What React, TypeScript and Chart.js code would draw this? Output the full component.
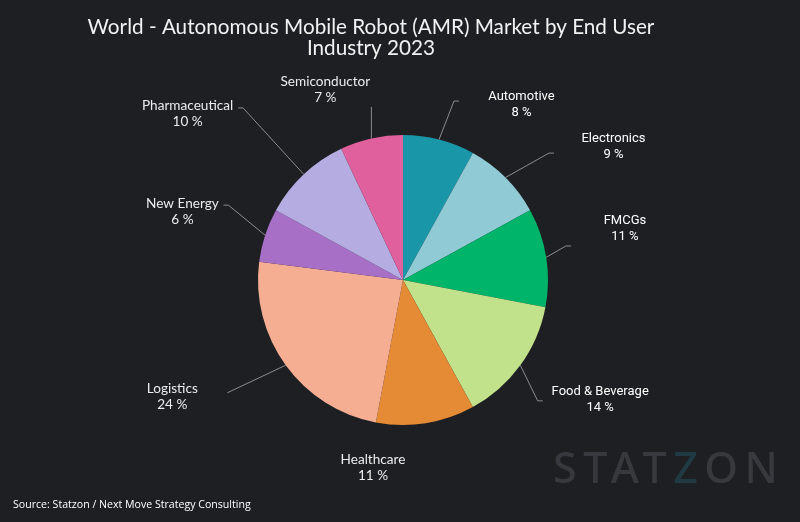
import React, { useEffect, useRef } from "react";
import { Chart, registerables } from "chart.js";

Chart.register(...registerables);

const categories = [
  "Automotive",
  "Electronics",
  "FMCGs",
  "Food & Beverage",
  "Healthcare",
  "Logistics",
  "New Energy",
  "Pharmaceutical",
  "Semiconductor",
];
const shares = [8, 9, 11, 14, 11, 24, 6, 10, 7];
const sliceColors = [
  "#1a96a9",
  "#90cad5",
  "#00b46a",
  "#c1e28b",
  "#e58a35",
  "#f6ae92",
  "#a86fc6",
  "#b5ade2",
  "#e0609d",
];
const titleLines = [
  "World - Autonomous Mobile Robot (AMR) Market by End User",
  "Industry 2023",
];
const sourceText = "Source: Statzon / Next Move Strategy Consulting";

// label layout: elbow relative to slice mid-angle (deg shift, radius factor),
// hook = horizontal tail, tdx/tdy = text centre relative to tail end
const labelLayout = [
  { shift: 1.5, rf: 1.283, hook: 5, tdx: 62.5, tdy: 4, font: "Roboto" },
  { shift: 4.0, rf: 1.334, hook: 5, tdx: 59.5, tdy: -6.5, font: "Roboto" },
  { shift: -2.8, rf: 1.148, hook: 5, tdx: 54, tdy: -17, font: "Roboto" },
  { shift: 5.9, rf: 1.248, hook: 5, tdx: 57.5, tdy: -1, font: "Roboto" },
  { shift: 0, rf: 1.0, hook: 0, tdx: -52.7, tdy: 44, font: "Lato" },
  { shift: 3.3, rf: 1.44, hook: 0, tdx: -55, tdy: 4, font: "Lato" },
  { shift: 5.2, rf: 1.31, hook: -5, tdx: -41, tdy: 6, font: "Lato" },
  { shift: 0.3, rf: 1.62, hook: -5, tdx: -50.5, tdy: 5.5, font: "Lato" },
  { shift: 2.1, rf: 1.214, hook: 0, tdx: -46, tdy: -17.5, font: "Lato", vertical: true },
];

const BG = "#1e1f23";

const decorPlugin = {
  id: "decor",
  beforeDraw(chart: any) {
    const ctx = chart.ctx;
    ctx.save();
    ctx.fillStyle = BG;
    ctx.fillRect(0, 0, chart.width, chart.height);
    ctx.restore();
  },
  afterDraw(chart: any) {
    const ctx = chart.ctx;
    const meta = chart.getDatasetMeta(0);
    ctx.save();
    // title
    ctx.fillStyle = "#f2f2f2";
    ctx.font = "20.7px Lato";
    ctx.textAlign = "center";
    ctx.textBaseline = "middle";
    ctx.fillText(titleLines[0], 371, 27);
    ctx.fillText(titleLines[1], 371, 48);

    // labels
    meta.data.forEach((arc: any, i: number) => {
      const p = arc.getProps(["x", "y", "startAngle", "endAngle", "outerRadius"], true);
      const mid = (p.startAngle + p.endAngle) / 2;
      const L = labelLayout[i];
      const ax = p.x + p.outerRadius * Math.cos(mid);
      const ay = p.y + p.outerRadius * Math.sin(mid);
      const ea = mid + (L.shift * Math.PI) / 180;
      let ex = p.x + p.outerRadius * L.rf * Math.cos(ea);
      let ey = p.y + p.outerRadius * L.rf * Math.sin(ea);
      if ((L as any).vertical) {
        ex = ax;
      }
      const tx = ex + L.hook;
      const ty = ey;
      if (L.rf > 1.01) {
        ctx.strokeStyle = "#8c8c8c";
        ctx.lineWidth = 1;
        ctx.beginPath();
        ctx.moveTo(ax, ay);
        ctx.lineTo(ex, ey);
        if (L.hook !== 0) ctx.lineTo(tx, ty);
        ctx.stroke();
      }
      const cx = tx + L.tdx;
      const cy = ty + L.tdy;
      ctx.fillStyle = L.font === "Roboto" ? "#ffffff" : "#ececec";
      ctx.font = (L.font === "Roboto" ? "13px " : "13.6px ") + L.font;
      ctx.textAlign = "center";
      ctx.textBaseline = "middle";
      ctx.fillText(categories[i], cx, cy - 8);
      ctx.fillText(shares[i] + " %", cx, cy + 8);
    });

    // source
    ctx.fillStyle = "#ffffff";
    ctx.font = "10.6px 'Open Sans'";
    ctx.textAlign = "left";
    ctx.textBaseline = "middle";
    ctx.fillText(sourceText, 13, 505);

    // watermark
    ctx.font = "500 43px 'Noto Sans'";
    (ctx as any).letterSpacing = "6.5px";
    ctx.textAlign = "left";
    ctx.textBaseline = "alphabetic";
    let wx = 553;
    const parts: [string, string][] = [
      ["STAT", "#38393e"],
      ["Z", "#1f3a42"],
      ["ON", "#38393e"],
    ];
    parts.forEach(([t, c]) => {
      ctx.fillStyle = c;
      ctx.fillText(t, wx, 483);
      wx += ctx.measureText(t).width;
    });
    ctx.restore();
  },
};

export default function App() {
  const ref = useRef<HTMLCanvasElement | null>(null);
  useEffect(() => {
    document.body.style.margin = "0";
    document.body.style.background = BG;
    if (!ref.current) return;
    const chart = new Chart(ref.current, {
      type: "pie",
      data: {
        labels: categories,
        datasets: [
          {
            data: shares,
            backgroundColor: sliceColors,
            borderWidth: 0,
          },
        ],
      },
      options: {
        responsive: false,
        animation: false,
        devicePixelRatio: 1,
        layout: { padding: { left: 258, right: 252, top: 135, bottom: 97 } },
        plugins: {
          legend: { display: false },
          title: { display: false },
          tooltip: { enabled: false },
        },
      },
      plugins: [decorPlugin],
    });
    return () => chart.destroy();
  }, []);
  return (
    <div style={{ width: 800, height: 522, background: BG }}>
      <canvas ref={ref} width={800} height={522} />
    </div>
  );
}
